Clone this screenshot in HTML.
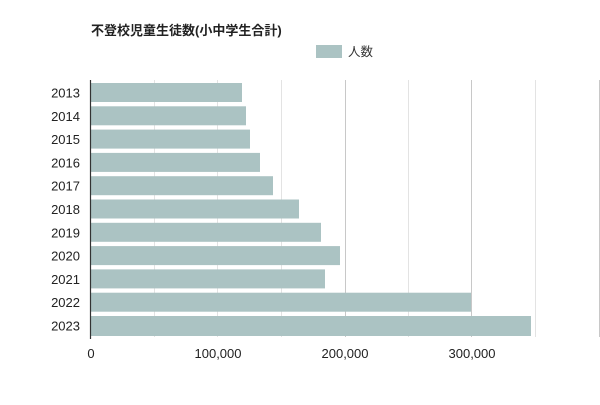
<!DOCTYPE html>
<html><head><meta charset="utf-8"><style>body{margin:0;background:#fff}</style></head><body>
<svg width="600" height="400" xmlns="http://www.w3.org/2000/svg" font-family="Liberation Sans, Noto Sans CJK JP, sans-serif">
<rect width="600" height="400" fill="#fff"/>
<text x="91" y="35" font-size="13" font-weight="bold" fill="#222">不登校児童生徒数(小中学生合計)</text>
<rect x="316" y="45" width="26" height="13" fill="#abc3c3"/>
<text x="348" y="56" font-size="12.5" fill="#333">人数</text>
<g stroke="#e3e3e3" stroke-width="1">
<line x1="154.5" y1="80" x2="154.5" y2="337"/><line x1="217.5" y1="80" x2="217.5" y2="337"/>
<line x1="281.5" y1="80" x2="281.5" y2="337"/><line x1="408.5" y1="80" x2="408.5" y2="337"/>
<line x1="535.5" y1="80" x2="535.5" y2="337"/>
</g>
<g stroke="#c8c8c8" stroke-width="1">
<line x1="345.5" y1="80" x2="345.5" y2="337"/><line x1="471.5" y1="80" x2="471.5" y2="337"/><line x1="599.5" y1="80" x2="599.5" y2="337"/>
</g>
<g fill="#abc3c3">
<rect x="91" y="83" width="151" height="19"/>
<rect x="91" y="106.3" width="155" height="19"/>
<rect x="91" y="129.6" width="159" height="19"/>
<rect x="91" y="152.9" width="169" height="19"/>
<rect x="91" y="176.2" width="182" height="19"/>
<rect x="91" y="199.5" width="208" height="19"/>
<rect x="91" y="222.8" width="230" height="19"/>
<rect x="91" y="246.1" width="249" height="19"/>
<rect x="91" y="269.4" width="234" height="19"/>
<rect x="91" y="292.7" width="380" height="19"/>
<rect x="91" y="316" width="440" height="20"/>
</g>
<line x1="90.5" y1="80" x2="90.5" y2="339" stroke="#333" stroke-width="1.2"/>
<g font-size="13" fill="#222" text-anchor="end">
<text x="80" y="97.5">2013</text><text x="80" y="120.8">2014</text><text x="80" y="144.1">2015</text>
<text x="80" y="167.4">2016</text><text x="80" y="190.7">2017</text><text x="80" y="214">2018</text>
<text x="80" y="237.3">2019</text><text x="80" y="260.6">2020</text><text x="80" y="283.9">2021</text>
<text x="80" y="307.2">2022</text><text x="80" y="330.5">2023</text>
</g>
<g font-size="13" fill="#222" text-anchor="middle">
<text x="91" y="358">0</text><text x="218" y="358">100,000</text>
<text x="345" y="358">200,000</text><text x="472" y="358">300,000</text>
</g>
</svg>
</body></html>
